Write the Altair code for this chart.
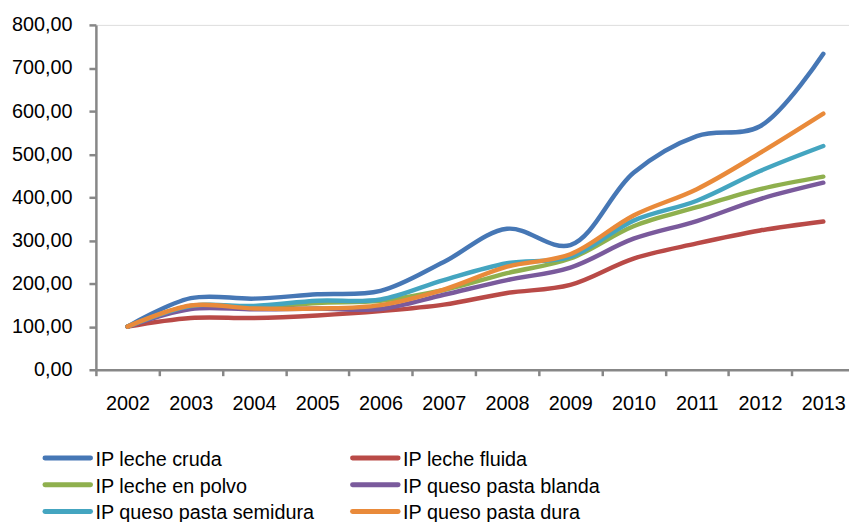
import altair as alt
import pandas as pd

years = ["2002", "2003", "2004", "2005", "2006", "2007", "2008", "2009", "2010", "2011", "2012", "2013"]
series_names = [
    "IP leche cruda",
    "IP leche fluida",
    "IP leche en polvo",
    "IP queso pasta blanda",
    "IP queso pasta semidura",
    "IP queso pasta dura",
]
leche_cruda = [100, 166, 165, 175, 183, 250, 327, 289, 457, 542, 565, 733]
leche_fluida = [100, 120, 120, 126, 136, 151, 178, 197, 258, 293, 323, 344]
leche_polvo = [100, 148, 145, 155, 160, 185, 224, 258, 333, 377, 419, 448]
queso_blanda = [100, 141, 140, 142, 141, 174, 208, 237, 304, 345, 396, 434]
queso_semidura = [100, 148, 148, 160, 163, 208, 247, 262, 346, 392, 461, 519]
queso_dura = [100, 149, 142, 142, 150, 186, 239, 268, 358, 419, 503, 594]
colors = ["#4677B5", "#B94A47", "#8FB04E", "#7A5A9C", "#44A5C0", "#E98A3A"]
y_ticks = [0, 100, 200, 300, 400, 500, 600, 700, 800]

all_series = [leche_cruda, leche_fluida, leche_polvo, queso_blanda, queso_semidura, queso_dura]
rows = []
for name, vals in zip(series_names, all_series):
    for yr, v in zip(years, vals):
        rows.append({"serie": name, "year": yr, "value": v})
df = pd.DataFrame(rows)

# legend entries laid out in 2 columns, 3 rows (row-major, like the original)
legend_df = pd.DataFrame(
    {
        "serie": series_names,
        "col": [i % 2 for i in range(len(series_names))],
        "row": [i // 2 for i in range(len(series_names))],
    }
)

FONT = "Liberation Sans"
AXIS_GRAY = "#878787"

color_scale = alt.Scale(domain=series_names, range=colors)

lines = (
    alt.Chart(df)
    .mark_line(strokeWidth=4.5, interpolate="catmull-rom", strokeCap="round", strokeJoin="round")
    .encode(
        x=alt.X(
            "year:N",
            sort=years,
            scale=alt.Scale(type="band", domain=years, range=[0, 766], paddingInner=0, paddingOuter=0),
            bandPosition=0.5,
            axis=alt.Axis(
                title=None,
                labelAngle=0,
                tickBand="extent",
                domainColor=AXIS_GRAY,
                domainWidth=2.5,
                tickColor=AXIS_GRAY,
                tickWidth=2.5,
                tickSize=6,
                labelPadding=18,
                labelFont=FONT,
                labelFontSize=20,
                labelColor="#000000",
                grid=False,
            ),
        ),
        y=alt.Y(
            "value:Q",
            scale=alt.Scale(domain=[0, 800], nice=False, zero=True),
            axis=alt.Axis(
                title=None,
                values=y_ticks,
                labelExpr="replace(format(datum.value, '.2f'), '.', ',')",
                domainColor=AXIS_GRAY,
                domainWidth=2.5,
                tickColor=AXIS_GRAY,
                tickWidth=2.5,
                tickSize=7,
                labelPadding=17,
                labelFont=FONT,
                labelFontSize=20,
                labelColor="#000000",
                grid=False,
            ),
        ),
        color=alt.Color("serie:N", sort=series_names, scale=color_scale, legend=None),
    )
)

leg_x = alt.X("col:Q", scale=alt.Scale(domain=[0, 1], range=[-28.4, 282]), axis=None)
leg_y = alt.Y("row:Q", scale=alt.Scale(domain=[0, 2], range=[439, 493]), axis=None)

leg_symbols = (
    alt.Chart(legend_df)
    .mark_point(
        shape="M-1,0H1",
        size=2116,
        filled=False,
        strokeWidth=5,
        strokeCap="round",
        opacity=1,
        yOffset=-2,
    )
    .encode(
        x=leg_x,
        y=leg_y,
        color=alt.Color("serie:N", scale=color_scale, legend=None),
    )
)

leg_text = (
    alt.Chart(legend_df)
    .mark_text(align="left", baseline="middle", dx=28, font=FONT, fontSize=20, color="#000000")
    .encode(x=leg_x, y=leg_y, text="serie:N")
)

chart = (
    alt.layer(lines, leg_symbols, leg_text)
    .resolve_scale(x="independent", y="independent")
    .properties(
        width=760,
        height=348,
        autosize=alt.AutoSizeParams(type="none"),
        padding={"left": 88.7, "top": 14.7, "right": 0, "bottom": 151.3},
    )
    .configure_view(stroke=None)
    .configure(background="white")
)

chart.save("out.html", embed_options={"renderer": "svg", "actions": False})
